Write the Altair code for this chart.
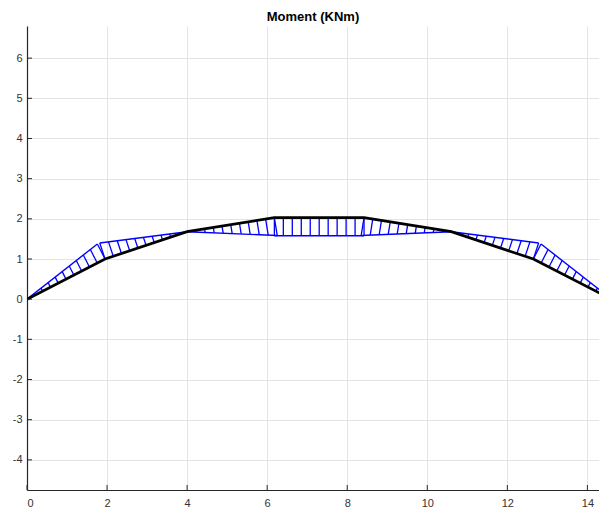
import altair as alt
import numpy as np
import pandas as pd

# Structure geometry (black polyline) – node coordinates
node_x = [0.0, 1.95, 4.0, 6.18, 8.42, 10.6, 12.65, 14.6]
node_y = [0.0, 1.0, 1.68, 2.03, 2.03, 1.68, 1.0, 0.0]

# Moment ordinates (drawn perpendicular to each member) at member start / end
m_start = [0.0, 0.42, 0.0, -0.45, -0.45, 0.0, 0.42]
m_end = [0.42, 0.0, -0.45, -0.45, 0.0, 0.42, 0.0]
hatch_steps = 10

x_tick_values = [0, 2, 4, 6, 8, 10, 12, 14]
y_tick_values = [-4, -3, -2, -1, 0, 1, 2, 3, 4, 5, 6]

# plot area visible in the page: 572 px wide at ~40 px per unit
X_DOM = [0, 14.29]
Y_DOM = [-4.75, 6.8]
W, H = 572, 464

# --- build hatch segments and diagram outline from member geometry ---
hatch_rows = []
outline_rows = []
for i in range(len(node_x) - 1):
    x0, y0, x1, y1 = node_x[i], node_y[i], node_x[i + 1], node_y[i + 1]
    L = np.hypot(x1 - x0, y1 - y0)
    nx, ny = -(y1 - y0) / L, (x1 - x0) / L
    for k, t in enumerate(np.linspace(0, 1, hatch_steps + 1)):
        bx = x0 + t * (x1 - x0)
        by = y0 + t * (y1 - y0)
        m = m_start[i] + t * (m_end[i] - m_start[i])
        hatch_rows.append({"bx": bx, "by": by, "ox": bx + m * nx, "oy": by + m * ny})
        if k in (0, hatch_steps):
            outline_rows.append({"member": i, "ord": k, "ox": bx + m * nx, "oy": by + m * ny})

hatch_df = pd.DataFrame(hatch_rows)
outline_df = pd.DataFrame(outline_rows)
struct_df = pd.DataFrame({"x": node_x, "y": node_y, "ord": list(range(len(node_x)))})

xs = alt.Scale(domain=X_DOM, nice=False, zero=False)
ys = alt.Scale(domain=Y_DOM, nice=False, zero=False)

base_axis_x = alt.Axis(values=x_tick_values, title=None, grid=True, tickSize=0,
                       labelPadding=7, labelExpr="'' + datum.value")
base_axis_y = alt.Axis(values=y_tick_values, title=None, grid=True, tickSize=0,
                       labelPadding=5, labelExpr="'' + datum.value")

hatch = alt.Chart(hatch_df).mark_rule(color="#0000ff", strokeWidth=1.3, clip=True).encode(
    x=alt.X("bx:Q", scale=xs, axis=base_axis_x),
    y=alt.Y("by:Q", scale=ys, axis=base_axis_y),
    x2="ox:Q",
    y2="oy:Q",
)

outline = alt.Chart(outline_df).mark_line(color="#0000ff", strokeWidth=1.4, clip=True).encode(
    x=alt.X("ox:Q", scale=xs, axis=base_axis_x),
    y=alt.Y("oy:Q", scale=ys, axis=base_axis_y),
    detail="member:N",
    order="ord:Q",
)

struct = alt.Chart(struct_df).mark_line(color="#000000", strokeWidth=2.7, clip=True).encode(
    x=alt.X("x:Q", scale=xs, axis=base_axis_x),
    y=alt.Y("y:Q", scale=ys, axis=base_axis_y),
    order="ord:Q",
)

ytick_df = pd.DataFrame({"v": y_tick_values})
xtick_df = pd.DataFrame({"v": x_tick_values})

yticks = alt.Chart(ytick_df).mark_rule(color="#262626", strokeWidth=1).encode(
    y=alt.Y("v:Q", scale=ys, axis=base_axis_y),
    x=alt.value(0),
    x2=alt.value(5),
)
xticks = alt.Chart(xtick_df).mark_rule(color="#262626", strokeWidth=1).encode(
    x=alt.X("v:Q", scale=xs, axis=base_axis_x),
    y=alt.value(H),
    y2=alt.value(H - 5),
)

chart = (
    alt.layer(hatch, outline, struct, yticks, xticks)
    .properties(
        width=W,
        height=H,
        title=alt.TitleParams("Moment (KNm)", fontSize=13, fontWeight="bold",
                              font="Liberation Sans", color="#000000",
                              anchor="middle", offset=2),
        autosize=alt.AutoSizeParams(type="none"),
        padding={"left": 19, "top": 18, "right": 0, "bottom": 20},
    )
    .configure_view(stroke=None)
    .configure_axis(
        labelFont="Liberation Sans",
        labelFontSize=11,
        labelColor="#333333",
        gridColor="#e3e3e3",
        gridWidth=1,
        domainColor="#262626",
        domainWidth=1.2,
    )
    .configure_axisX(orient="bottom")
    .configure_axisY(orient="left")
)

chart.save("out.html", embed_options={"renderer": "svg", "actions": False})
